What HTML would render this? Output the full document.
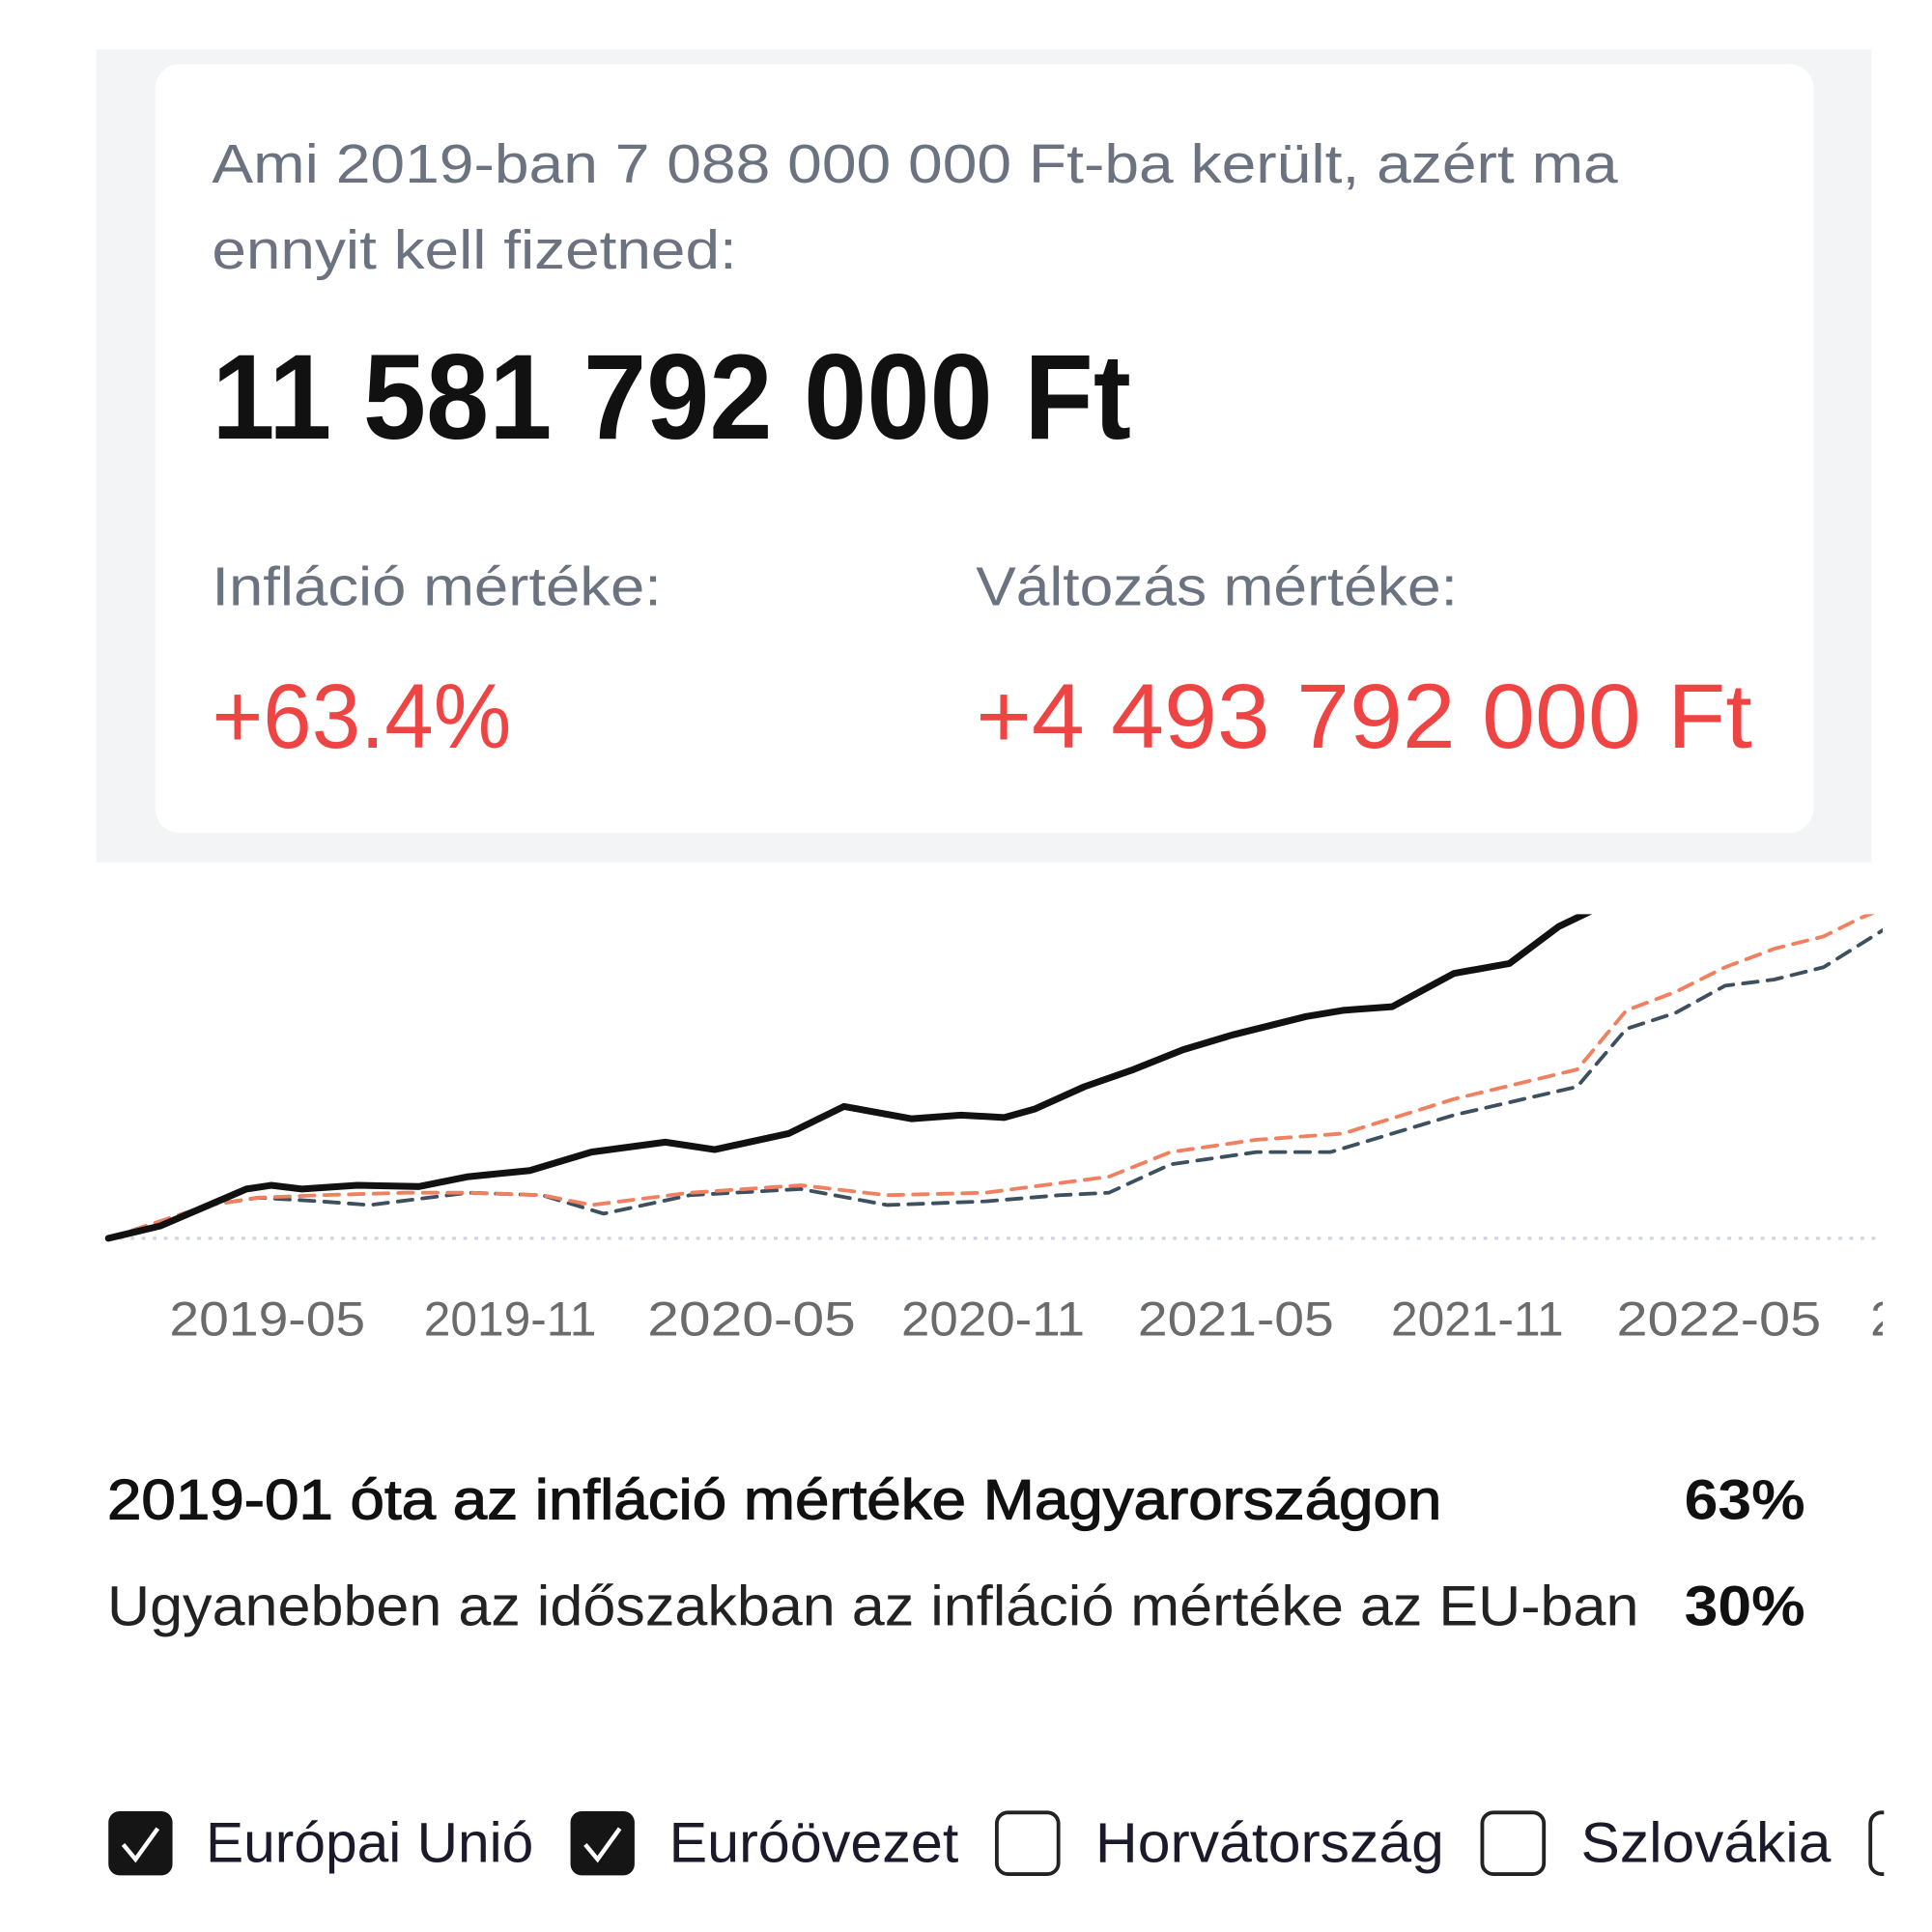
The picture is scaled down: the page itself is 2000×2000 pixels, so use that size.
<!DOCTYPE html>
<html><head><meta charset="utf-8"><style>
html,body{margin:0;padding:0;background:#fff;width:2000px;height:2000px;overflow:hidden}
svg{display:block}
text{font-family:"Liberation Sans",sans-serif}
</style></head><body>
<svg width="2000" height="2000" viewBox="0 0 1568 1568" xmlns="http://www.w3.org/2000/svg">
<rect x="0" y="0" width="1568" height="1568" fill="#fff"/>
<rect x="78" y="40" width="1441" height="660" fill="#f3f4f6"/>
<rect x="126" y="52" width="1346" height="624" rx="20" fill="#fff"/>
<g fill="#6b7280" font-size="44">
<text x="172" y="148" textLength="1141" lengthAdjust="spacingAndGlyphs">Ami 2019-ban 7 088 000 000 Ft-ba került, azért ma</text>
<text x="172" y="218" textLength="426" lengthAdjust="spacingAndGlyphs">ennyit kell fizetned:</text>
<text x="172" y="491" textLength="365" lengthAdjust="spacingAndGlyphs">Infláció mértéke:</text>
<text x="792" y="491" textLength="391" lengthAdjust="spacingAndGlyphs">Változás mértéke:</text>
</g>
<text x="172" y="356" font-size="98" font-weight="bold" fill="#111" textLength="746" lengthAdjust="spacingAndGlyphs">11 581 792 000 Ft</text>
<g fill="#ef4444" font-size="74">
<text x="172" y="607" textLength="243" lengthAdjust="spacingAndGlyphs">+63.4%</text>
<text x="792" y="607" textLength="630" lengthAdjust="spacingAndGlyphs">+4 493 792 000 Ft</text>
</g>
<defs><clipPath id="c"><rect x="80" y="742" width="1448" height="300"/></clipPath></defs>
<line x1="88" y1="1005" x2="1525" y2="1005" stroke="#d1d5db" stroke-width="2.5" stroke-dasharray="3 6"/>
<g clip-path="url(#c)" fill="none" stroke-linejoin="round" stroke-linecap="round">
<polyline stroke="#3d5060" stroke-width="3" stroke-dasharray="12 8" points="88,1005 170,978 210,972 260,975 300,978 380,968 440,970 490,985 560,970 650,965 720,978 800,975 860,970 900,968 950,945 1020,935 1080,935 1180,905 1280,882 1320,835 1360,822 1400,800 1440,795 1480,785 1528,755"/>
<polyline stroke="#f08060" stroke-width="3" stroke-dasharray="12 8" points="88,1005 170,978 210,972 260,970 330,968 380,968 440,970 480,978 560,968 650,962 720,970 800,968 900,955 950,935 1020,925 1090,920 1180,892 1280,868 1320,820 1360,805 1400,785 1440,770 1480,760 1510,745 1528,738"/>
<polyline stroke="#111" stroke-width="5.5" points="88,1005 130,995 165,980 200,965 220,962 245,965 290,962 340,963 380,955 430,950 480,935 540,927 580,933 640,920 685,898 740,908 780,905 815,907 840,900 880,882 920,868 960,852 1000,840 1060,825 1090,820 1130,817 1180,790 1225,782 1265,752 1290,740"/>
</g>
<g fill="#6b6b6b" font-size="39" text-anchor="middle">
<text x="217" y="1084" textLength="159" lengthAdjust="spacingAndGlyphs">2019-05</text>
<text x="414" y="1084" textLength="140" lengthAdjust="spacingAndGlyphs">2019-11</text>
<text x="610" y="1084" textLength="169" lengthAdjust="spacingAndGlyphs">2020-05</text>
<text x="806" y="1084" textLength="149" lengthAdjust="spacingAndGlyphs">2020-11</text>
<text x="1003" y="1084" textLength="159" lengthAdjust="spacingAndGlyphs">2021-05</text>
<text x="1199" y="1084" textLength="140" lengthAdjust="spacingAndGlyphs">2021-11</text>
<text x="1395" y="1084" textLength="166" lengthAdjust="spacingAndGlyphs">2022-05</text>
</g>
<defs><clipPath id="c2"><rect x="1500" y="1040" width="28" height="60"/></clipPath></defs>
<text x="1518" y="1084" fill="#6b6b6b" font-size="39" clip-path="url(#c2)">2</text>
<g font-size="46" fill="#111">
<text x="87" y="1233" stroke="#111" stroke-width="0.9" textLength="1083" lengthAdjust="spacingAndGlyphs">2019-01 óta az infláció mértéke Magyarországon</text>
<text x="1367" y="1233" font-weight="bold" textLength="98" lengthAdjust="spacingAndGlyphs">63%</text>
<text x="87" y="1319" fill="#222" textLength="1243" lengthAdjust="spacingAndGlyphs">Ugyanebben az időszakban az infláció mértéke az EU-ban</text>
<text x="1367" y="1319" font-weight="bold" textLength="98" lengthAdjust="spacingAndGlyphs">30%</text>
</g>
<g>
<rect x="88" y="1470" width="52" height="52" rx="9" fill="#151515"/>
<polyline points="100,1497 110,1509 128,1484" fill="none" stroke="#fff" stroke-width="3.5"/>
<rect x="463" y="1470" width="52" height="52" rx="9" fill="#151515"/>
<polyline points="475,1497 485,1509 503,1484" fill="none" stroke="#fff" stroke-width="3.5"/>
<rect x="809" y="1471" width="50" height="50" rx="9" fill="none" stroke="#222" stroke-width="3"/>
<rect x="1203" y="1471" width="50" height="50" rx="9" fill="none" stroke="#222" stroke-width="3"/>
<defs><clipPath id="c3"><rect x="1500" y="1460" width="29" height="70"/></clipPath></defs>
<rect x="1518" y="1471" width="50" height="50" rx="9" fill="none" stroke="#222" stroke-width="3" clip-path="url(#c3)"/>
</g>
<g font-size="46" fill="#1a1a2a">
<text x="167" y="1511" textLength="266" lengthAdjust="spacingAndGlyphs">Európai Unió</text>
<text x="543" y="1511" textLength="235" lengthAdjust="spacingAndGlyphs">Euróövezet</text>
<text x="889" y="1511" textLength="283" lengthAdjust="spacingAndGlyphs">Horvátország</text>
<text x="1283" y="1511" textLength="203" lengthAdjust="spacingAndGlyphs">Szlovákia</text>
</g>
</svg>
</body></html>
